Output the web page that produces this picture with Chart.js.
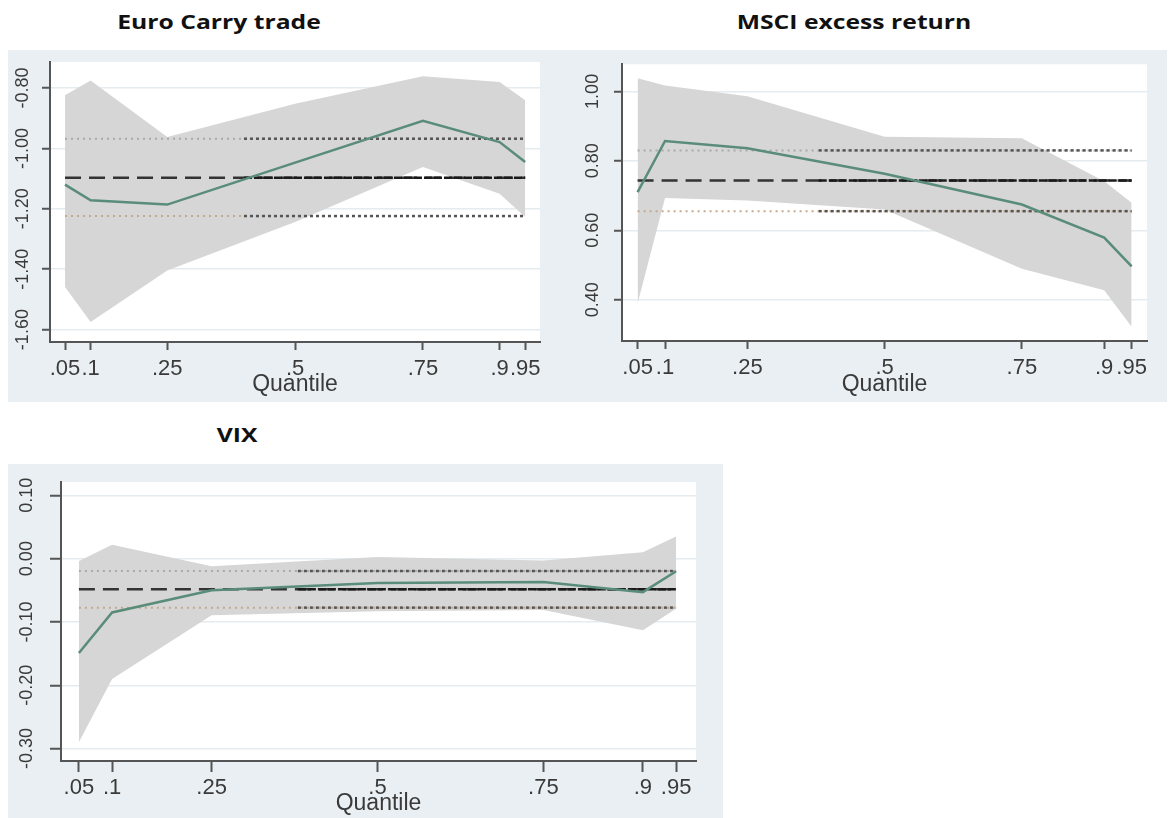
<!DOCTYPE html>
<html>
<head>
<meta charset="utf-8">
<script src="https://cdn.jsdelivr.net/npm/chart.js@4.4.1/dist/chart.umd.min.js"></script>
<style>
  body { margin: 0; width: 1170px; height: 818px; background: #fff; position: relative; overflow: hidden; }
  .panel { position: absolute; background: #e9eff2; }
  .title { position: absolute; font: 700 19px 'Open Sans', sans-serif; color: #111; white-space: nowrap;
           transform: translate(-50%, -50%) scaleX(1.3); }
</style>
</head>
<body>

<div class="title" style="left:219px; top:22px">Euro Carry trade</div>
<div class="title" style="left:854px; top:22px">MSCI excess return</div>
<div class="title" style="left:237px; top:435px">VIX</div>

<div class="panel" style="left:8px; top:50px; width:547px; height:352px"><canvas id="carry"></canvas></div>
<div class="panel" style="left:555px; top:50px; width:612px; height:352px"><canvas id="msci"></canvas></div>
<div class="panel" style="left:8px; top:464px; width:715px; height:354px"><canvas id="vix"></canvas></div>

<script>
const quantiles = [0.05, 0.1, 0.25, 0.5, 0.75, 0.9, 0.95];
const quantileLabels = ['.05', '.1', '.25', '.5', '.75', '.9', '.95'];

// Euro Carry trade
const carryCoef  = [-1.12, -1.172, -1.186, -1.047, -0.909, -0.979, -1.045];
const carryUpper = [-0.824, -0.775, -0.962, -0.852, -0.761, -0.780, -0.841];
const carryLower = [-1.459, -1.575, -1.404, -1.244, -1.062, -1.150, -1.227];
const carryOls   = [-1.097, -0.968, -1.224];   // estimate, upper, lower
const carryTicks = [-1.6, -1.4, -1.2, -1.0, -0.8];

// MSCI excess return
const msciCoef  = [0.710, 0.857, 0.836, 0.763, 0.674, 0.579, 0.496];
const msciUpper = [1.038, 1.017, 0.986, 0.869, 0.865, 0.741, 0.679];
const msciLower = [0.389, 0.693, 0.686, 0.660, 0.489, 0.427, 0.322];
const msciOls   = [0.743, 0.830, 0.655];
const msciTicks = [0.4, 0.6, 0.8, 1.0];

// VIX
const vixCoef  = [-0.149, -0.085, -0.050, -0.0385, -0.037, -0.053, -0.020];
const vixUpper = [-0.004, 0.022, -0.012, 0.0025, -0.003, 0.010, 0.035];
const vixLower = [-0.290, -0.190, -0.0895, -0.083, -0.081, -0.113, -0.079];
const vixOls   = [-0.0485, -0.0196, -0.0774];
const vixTicks = [-0.3, -0.2, -0.1, 0.0, 0.1];

Chart.defaults.font.family = "'Liberation Sans', Arial, sans-serif";
Chart.defaults.color = '#3a3a3a';

const whiteArea = {
    id: 'whiteArea',
    beforeDraw(chart) {
        const a = chart.chartArea;
        chart.ctx.save();
        chart.ctx.fillStyle = '#fff';
        chart.ctx.fillRect(a.left, a.top, a.right - a.left, a.bottom - a.top);
        chart.ctx.restore();
    }
};

function pts(ys) {
    return quantiles.map((q, i) => ({ x: q, y: ys[i] }));
}

function hline(x0, y, color, dash, width, order) {
    return {
        data: [{ x: x0, y: y }, { x: 0.95, y: y }],
        borderColor: color, borderDash: dash, borderWidth: width,
        pointRadius: 0, fill: false, order: order
    };
}

function makeChart(id, p) {
    const datasets = [
        { data: pts(p.upper), borderWidth: 0, pointRadius: 0, fill: '+1', backgroundColor: '#d6d6d6', order: 10 },
        { data: pts(p.lower), borderWidth: 0, pointRadius: 0, fill: false, order: 11 },
        hline(0.05, p.ols[1], '#a9a9a9', [2, 4], 2, 6),
        hline(p.split, p.ols[1], '#555', [3, 3], 2.5, 5),
        hline(0.05, p.ols[2], '#c4a98c', [2, 4], 2, 6),
        hline(p.split, p.ols[2], '#555', [3, 3], 2.5, 5),
        hline(0.05, p.ols[0], '#333', [16, 8], 2.5, 4),
        hline(p.split, p.ols[0], '#1a1a1a', [8, 2], 2.5, 3),
        { data: pts(p.coef), borderColor: '#5a8c7a', borderWidth: 2.5, pointRadius: 0, fill: false, order: 1 }
    ];

    new Chart(document.getElementById(id), {
        type: 'line',
        data: { datasets: datasets },
        plugins: [whiteArea],
        options: {
            animation: false,
            responsive: true,
            maintainAspectRatio: false,
            layout: { padding: { top: p.padTop, right: p.padRight, left: 0, bottom: 0 } },
            plugins: { legend: { display: false }, tooltip: { enabled: false } },
            scales: {
                x: {
                    type: 'linear', min: p.xMin, max: p.xMax,
                    afterBuildTicks: s => { s.ticks = quantiles.map(v => ({ value: v })); },
                    afterFit: s => { s.height = p.xH; },
                    grid: { drawOnChartArea: false, tickColor: '#555', tickLength: p.tick, tickWidth: 2 },
                    border: { color: '#555', width: 2 },
                    ticks: { autoSkip: false, maxRotation: 0, minRotation: 0, padding: p.xPad,
                             font: { size: 22 }, callback: (v, i) => quantileLabels[i] },
                    title: { display: true, text: 'Quantile', font: { size: 23 }, color: '#3a3a3a',
                             padding: { top: 0, bottom: p.titlePad } }
                },
                y: {
                    min: p.yMin, max: p.yMax,
                    afterBuildTicks: s => { s.ticks = p.ticks.map(v => ({ value: v })); },
                    afterFit: s => { s.width = p.yW; },
                    grid: { color: '#e4ecef', lineWidth: 1.5, tickColor: '#555', tickLength: p.tick, tickWidth: 2 },
                    border: { color: '#555', width: 2 },
                    ticks: { minRotation: 90, maxRotation: 90, crossAlign: 'center', padding: p.yPad,
                             font: { size: 18 }, callback: v => v.toFixed(2) }
                }
            }
        }
    });
}

makeChart('carry', {
    coef: carryCoef, upper: carryUpper, lower: carryLower, ols: carryOls, ticks: carryTicks, split: 0.40,
    xMin: 0.0206, xMax: 0.979, yMin: -1.641, yMax: -0.714,
    padTop: 12, padRight: 15, yW: 42, xH: 60, tick: 8, xPad: 5.4, yPad: -1.8, titlePad: 3.2
});

makeChart('msci', {
    coef: msciCoef, upper: msciUpper, lower: msciLower, ols: msciOls, ticks: msciTicks, split: 0.38,
    xMin: 0.0216, xMax: 0.978, yMin: 0.281, yMax: 1.078,
    padTop: 12, padRight: 20, yW: 67, xH: 61, tick: 8, xPad: 6, yPad: 3.5, titlePad: 3.2
});

makeChart('vix', {
    coef: vixCoef, upper: vixUpper, lower: vixLower, ols: vixOls, ticks: vixTicks, split: 0.38,
    xMin: 0.023, xMax: 0.980, yMin: -0.3196, yMax: 0.121,
    padTop: 18, padRight: 27, yW: 53, xH: 57, tick: 11, xPad: 2.4, yPad: 2, titlePad: 0.2
});
</script>
</body>
</html>
